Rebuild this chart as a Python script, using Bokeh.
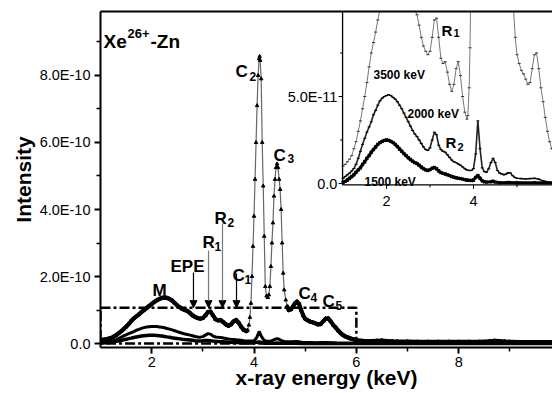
from bokeh.plotting import figure
from bokeh.models import Range1d, LinearAxis, FixedTicker, Arrow, NormalHead
from bokeh.core.properties import value
from bokeh.embed import file_html
from bokeh.resources import INLINE

FONT = "Liberation Sans"

# ---------------- data ----------------
# 3500 keV spectrum (main curve), intensity in units of 1e-10
E_3500 = [1.00, 1.05, 1.10, 1.15, 1.20, 1.25, 1.30, 1.35, 1.40, 1.45, 1.50, 1.55, 1.60, 1.65,
          1.70, 1.75, 1.80, 1.85, 1.90, 1.95, 2.00, 2.05, 2.10, 2.15, 2.20, 2.25, 2.30, 2.35,
          2.40, 2.45, 2.50, 2.55, 2.60, 2.65, 2.70, 2.75, 2.80, 2.85, 2.90, 2.95, 3.00, 3.05,
          3.10, 3.15, 3.20, 3.25, 3.30, 3.35, 3.40, 3.45, 3.50, 3.55, 3.60, 3.65, 3.70, 3.75,
          3.80, 3.85, 3.87, 3.90, 3.92, 3.94, 3.96, 3.98, 4.00, 4.02, 4.04, 4.06, 4.08, 4.10,
          4.11, 4.12, 4.14, 4.16, 4.18, 4.20, 4.22, 4.245, 4.27, 4.29, 4.31, 4.33, 4.35, 4.37,
          4.39, 4.41, 4.43, 4.45, 4.47, 4.49, 4.51, 4.53, 4.55, 4.57, 4.59, 4.62, 4.65, 4.68,
          4.72, 4.76, 4.80, 4.84, 4.88, 4.92, 4.96, 5.00, 5.05, 5.10, 5.15, 5.20, 5.25, 5.30,
          5.35, 5.40, 5.45, 5.50, 5.55, 5.60, 5.65, 5.70, 5.75, 5.80, 5.85, 5.90, 5.95, 6.00,
          6.10, 6.20, 6.30, 6.40, 6.50, 6.60, 6.70, 6.80, 7.00, 7.20, 7.40, 7.60, 7.80, 8.00,
          8.20, 8.40, 8.60, 8.70, 8.80, 8.90, 9.00, 9.20, 9.40, 9.60, 9.85]
I_3500 = [0.10, 0.11, 0.125, 0.14, 0.16, 0.20, 0.24, 0.30, 0.36, 0.43, 0.50, 0.58, 0.67, 0.75,
          0.81, 0.87, 0.94, 1.00, 1.06, 1.12, 1.18, 1.24, 1.29, 1.33, 1.36, 1.37, 1.36, 1.33,
          1.28, 1.21, 1.14, 1.08, 1.03, 1.00, 0.97, 0.91, 0.84, 0.79, 0.76, 0.74, 0.76, 0.84,
          0.94, 0.95, 0.84, 0.72, 0.69, 0.70, 0.64, 0.57, 0.53, 0.57, 0.66, 0.70, 0.62, 0.50,
          0.41, 0.37, 0.39, 0.55, 0.78, 1.2, 2.0, 2.9, 3.8, 4.9, 6.0, 7.1, 8.0, 8.5,
          8.57, 8.45, 7.9, 6.0, 4.7, 3.2, 1.7, 1.42, 1.37, 1.45, 1.7, 2.3, 3.0, 3.6,
          4.4, 4.9, 5.25, 5.36, 5.25, 4.9, 4.6, 4.0, 3.0, 2.1, 1.6, 1.3, 1.1, 1.0,
          1.02, 1.1, 1.2, 1.25, 1.18, 1.00, 0.84, 0.74, 0.69, 0.65, 0.63, 0.60, 0.57, 0.58,
          0.66, 0.74, 0.75, 0.66, 0.55, 0.47, 0.38, 0.30, 0.24, 0.20, 0.17, 0.14, 0.12, 0.10,
          0.08, 0.07, 0.07, 0.08, 0.085, 0.075, 0.065, 0.06, 0.055, 0.05, 0.05, 0.05, 0.05, 0.05,
          0.05, 0.05, 0.065, 0.08, 0.07, 0.055, 0.05, 0.045, 0.045, 0.04, 0.04]

# 2000 keV spectrum, intensity in units of 1e-11
E_2000 = [1.00, 1.05, 1.10, 1.15, 1.20, 1.25, 1.30, 1.35, 1.40, 1.45, 1.50, 1.55, 1.60, 1.65,
          1.70, 1.75, 1.80, 1.85, 1.90, 1.95, 2.00, 2.05, 2.10, 2.15, 2.20, 2.25, 2.30, 2.35,
          2.40, 2.45, 2.50, 2.55, 2.60, 2.65, 2.70, 2.75, 2.80, 2.85, 2.90, 2.95, 3.00, 3.05,
          3.10, 3.15, 3.20, 3.25, 3.30, 3.35, 3.40, 3.45, 3.50, 3.55, 3.60, 3.65, 3.70, 3.75,
          3.80, 3.85, 3.90, 3.95, 4.00, 4.05, 4.10, 4.15, 4.20, 4.25, 4.30, 4.35, 4.40, 4.45,
          4.50, 4.55, 4.60, 4.65, 4.70, 4.75, 4.80, 4.85, 4.90, 4.95, 5.00, 5.10, 5.20, 5.30,
          5.40, 5.50, 5.60, 5.70, 5.85, 6.00, 6.40, 7.00, 8.00, 8.70, 9.00, 9.85]
I_2000 = [0.30, 0.40, 0.50, 0.60, 0.72, 0.86, 1.10, 1.45, 1.85, 2.25, 2.60, 2.95, 3.25, 3.55,
          3.95, 4.20, 4.50, 4.75, 4.90, 5.00, 5.05, 5.10, 5.05, 4.95, 4.85, 4.70, 4.50, 4.30,
          4.05, 3.80, 3.55, 3.30, 3.05, 2.85, 2.70, 2.50, 2.30, 2.10, 1.95, 1.90, 2.05, 2.50,
          2.95, 2.80, 2.20, 1.95, 1.85, 1.80, 1.65, 1.50, 1.35, 1.25, 1.20, 1.12, 1.05, 0.95,
          0.85, 0.78, 0.75, 0.75, 0.85, 1.70, 3.60, 2.00, 0.90, 0.68, 0.65, 0.85, 1.20, 1.45,
          1.20, 0.75, 0.60, 0.55, 0.50, 0.55, 0.62, 0.60, 0.45, 0.35, 0.30, 0.28, 0.26, 0.28,
          0.30, 0.25, 0.15, 0.10, 0.06, 0.05, 0.06, 0.04, 0.04, 0.10, 0.04, 0.03]

# 1500 keV spectrum, intensity in units of 1e-11
E_1500 = [1.00, 1.05, 1.10, 1.15, 1.20, 1.25, 1.30, 1.35, 1.40, 1.45, 1.50, 1.55, 1.60, 1.65,
          1.70, 1.75, 1.80, 1.85, 1.90, 1.95, 2.00, 2.05, 2.10, 2.15, 2.20, 2.25, 2.30, 2.35,
          2.40, 2.45, 2.50, 2.55, 2.60, 2.65, 2.70, 2.75, 2.80, 2.85, 2.90, 2.95, 3.00, 3.05,
          3.10, 3.15, 3.20, 3.25, 3.30, 3.35, 3.40, 3.45, 3.50, 3.55, 3.60, 3.65, 3.70, 3.75,
          3.80, 3.85, 3.90, 3.95, 4.00, 4.05, 4.10, 4.15, 4.20, 4.25, 4.30, 4.40, 4.45, 4.50,
          4.60, 4.80, 5.00, 5.40, 5.85, 6.50, 8.00, 9.85]
I_1500 = [0.06, 0.12, 0.20, 0.30, 0.40, 0.50, 0.65, 0.78, 0.90, 1.10, 1.25, 1.45, 1.60, 1.80,
          1.95, 2.10, 2.25, 2.35, 2.42, 2.48, 2.50, 2.48, 2.42, 2.35, 2.25, 2.12, 1.98, 1.85,
          1.72, 1.60, 1.48, 1.38, 1.28, 1.20, 1.15, 1.05, 0.95, 0.85, 0.78, 0.75, 0.80, 0.88,
          0.92, 0.85, 0.72, 0.63, 0.58, 0.55, 0.50, 0.45, 0.40, 0.36, 0.33, 0.30, 0.28, 0.25,
          0.22, 0.20, 0.18, 0.17, 0.20, 0.35, 0.46, 0.30, 0.15, 0.10, 0.08, 0.10, 0.13, 0.08,
          0.05, 0.06, 0.04, 0.05, 0.03, 0.03, 0.02, 0.02]

# axis ticks / labels
X_TICKS = [2, 4, 6, 8]
X_MINOR = [3, 5, 7, 9]
Y_TICKS = [0, 2, 4, 6, 8]
Y_MINOR = [1, 3, 5, 7, 9]
Y_LABELS = {0: "0.0", 2: "2.0E-10", 4: "4.0E-10", 6: "6.0E-10", 8: "8.0E-10"}
IN_X_TICKS = [2, 4]
IN_X_MINOR = [3, 5]
IN_Y_TICKS = [0, 5]
IN_Y_MINOR = [2.5, 7.5]
IN_Y_LABELS = ["0.0", "5.0E-11"]

ZOOM_BOX_X = [1.0, 6.0]
ZOOM_BOX_Y = [0.0, 1.07]

# ---------------- figure ----------------
XR = (1.0, 9.833)
YR = (-0.119, 9.91)
FW, FH = 452, 336  # frame size in px
p = figure(width=552, height=393, x_range=Range1d(*XR), y_range=Range1d(*YR),
           output_backend="svg", toolbar_location=None,
           min_border_left=100, min_border_right=0, min_border_top=11, min_border_bottom=46)
p.extra_x_ranges = {"ix": Range1d(-4.575, 5.816)}
p.extra_y_ranges = {"iy": Range1d(-9.425, 9.885)}
p.grid.visible = False
p.outline_line_color = None
p.background_fill_color = "white"

for ax in (p.xaxis[0], p.yaxis[0]):
    ax.axis_line_width = 2
    ax.major_tick_line_width = 2
    ax.minor_tick_line_width = 1.5
    ax.major_tick_in = 0
    ax.major_tick_out = 6
    ax.minor_tick_in = 0
    ax.minor_tick_out = 4
    ax.major_label_text_font = FONT
    ax.major_label_text_font_size = "14.5px"
    ax.major_label_text_color = "black"
    ax.major_label_standoff = 4
    ax.axis_label_text_font = FONT
    ax.axis_label_text_font_style = "bold"
    ax.axis_label_text_font_size = "21px"
    ax.axis_label_text_color = "black"

p.xaxis[0].ticker = FixedTicker(ticks=X_TICKS, minor_ticks=X_MINOR)
p.yaxis[0].ticker = FixedTicker(ticks=Y_TICKS, minor_ticks=Y_MINOR)
p.yaxis[0].major_label_overrides = Y_LABELS
p.xaxis[0].axis_label = "x-ray energy (keV)"
p.yaxis[0].axis_label = "Intensity"
p.xaxis[0].major_label_standoff = 3
p.xaxis[0].axis_label_standoff = -4
p.yaxis[0].axis_label_standoff = 2

top = LinearAxis(ticker=FixedTicker(ticks=[]), axis_line_width=2,
                 major_tick_line_color=None, minor_tick_line_color=None,
                 major_label_text_font_size="0px", major_label_standoff=0)
p.add_layout(top, "above")

# ---------------- main curves ----------------
I_2000_main = [v / 10 for v in I_2000]
I_1500_main = [v / 10 for v in I_1500]
p.line(E_1500, I_1500_main, line_color="black", line_width=3.5)
p.line(E_2000, I_2000_main, line_color="black", line_width=3)

# 3500 keV: densely marked curve -> thick where flat, thin grey where steep
sx = FW / (XR[1] - XR[0])
sy = FH / (YR[1] - YR[0])
n_seg = len(E_3500) - 1
steep_raw = []
for i in range(n_seg):
    dxp = (E_3500[i + 1] - E_3500[i]) * sx
    dyp = abs(I_3500[i + 1] - I_3500[i]) * sy
    steep_raw.append(dyp > 6 * dxp)
widths, colors = [], []
for i in range(n_seg):
    steep = steep_raw[i] or (i > 0 and steep_raw[i - 1]) or (i < n_seg - 1 and steep_raw[i + 1])
    widths.append(1.2 if steep else 4.2)
    colors.append("#666666" if steep else "black")
p.segment(x0=E_3500[:-1], y0=I_3500[:-1], x1=E_3500[1:], y1=I_3500[1:],
          line_width=widths, line_color=colors, line_cap="round")
p.scatter(E_3500, I_3500, marker="triangle", size=3.5, fill_color="black", line_color="black")

# zoom rectangle (dash-dot)
bx = [ZOOM_BOX_X[0], ZOOM_BOX_X[1], ZOOM_BOX_X[1], ZOOM_BOX_X[0], ZOOM_BOX_X[0]]
by = [ZOOM_BOX_Y[1], ZOOM_BOX_Y[1], ZOOM_BOX_Y[0], ZOOM_BOX_Y[0], ZOOM_BOX_Y[1]]
p.line(bx, by, line_color="black", line_width=2.5, line_dash="10 3 3 3")

# arrows
ARROWS = [(2.817, 2.12, "black"), (3.111, 2.78, "#777777"), (3.384, 3.58, "#777777"), (3.658, 2.09, "black")]
for ax_, ytop, col in ARROWS:
    p.add_layout(Arrow(end=NormalHead(size=7, fill_color="black", line_color="black"),
                       x_start=ax_, y_start=ytop, x_end=ax_, y_end=1.07,
                       line_color=col, line_width=1.2))


def txt(x, y, t, size, bold=True, align="left", baseline="alphabetic", xr="default", yr="default"):
    kw = {}
    if xr != "default":
        kw["x_range_name"] = xr
    if yr != "default":
        kw["y_range_name"] = yr
    p.text(x=[x], y=[y], text=[t], text_font=value(FONT), text_font_size=size,
           text_font_style="bold" if bold else "normal", text_align=align,
           text_baseline=baseline, text_color="black", **kw)


# main annotations
txt(1.059, 9.015, "Xe", "19px")
txt(1.528, 9.254, "26+", "13px")
txt(1.977, 9.015, "-Zn", "19px")
txt(2.016, 1.582, "M", "17px")
txt(2.368, 2.299, "EPE", "17px")
for (xm, ym, m, xs, ys, s) in [(2.993, 3.015, "R", 3.228, 2.896, "1"),
                               (3.228, 3.731, "R", 3.482, 3.612, "2"),
                               (3.580, 2.030, "C", 3.814, 1.910, "1"),
                               (3.638, 8.119, "C", 3.912, 7.970, "2"),
                               (4.381, 5.612, "C", 4.655, 5.522, "3"),
                               (4.870, 1.493, "C", 5.104, 1.373, "4"),
                               (5.339, 1.254, "C", 5.593, 1.134, "5")]:
    txt(xm, ym, m, "17px")
    txt(xs, ys, s, "12px")

# ---------------- inset ----------------
IXA, IYA = 0.99, -0.08
p.quad(left=[IXA], right=[6.0], bottom=[IYA], top=[10.5], x_range_name="ix", y_range_name="iy",
       fill_color="white", line_color=None)

I_3500_in = [v * 10 for v in I_3500]
p.line(E_3500, I_3500_in, x_range_name="ix", y_range_name="iy", line_color="#777777", line_width=1)
p.scatter(E_3500, I_3500_in, x_range_name="ix", y_range_name="iy", marker="dash", size=3,
          line_color="#333333")
p.line(E_2000, I_2000, x_range_name="ix", y_range_name="iy", line_color="#222222", line_width=1.6)
p.scatter(E_2000, I_2000, x_range_name="ix", y_range_name="iy", marker="dash", size=3,
          line_color="black")
p.line(E_1500, I_1500, x_range_name="ix", y_range_name="iy", line_color="black", line_width=3)
p.scatter(E_1500, I_1500, x_range_name="ix", y_range_name="iy", marker="x", size=4,
          line_color="black", line_width=1.5)

# inset axes
p.segment(x0=[IXA, IXA], y0=[IYA, IYA], x1=[6.0, IXA], y1=[IYA, 10.5],
          x_range_name="ix", y_range_name="iy", line_color="black", line_width=1.3)
TX = 4 / 17.4
TY = 4 / 43.5
p.segment(x0=IN_X_TICKS + IN_X_MINOR, y0=[IYA] * 4,
          x1=IN_X_TICKS + IN_X_MINOR, y1=[IYA - TX] * 2 + [IYA - TX * 0.6] * 2,
          x_range_name="ix", y_range_name="iy", line_color="black", line_width=1)
p.segment(x0=[IXA] * 4, y0=IN_Y_TICKS + IN_Y_MINOR,
          x1=[IXA - TY] * 2 + [IXA - TY * 0.6] * 2, y1=IN_Y_TICKS + IN_Y_MINOR,
          x_range_name="ix", y_range_name="iy", line_color="black", line_width=1)
for yv, lab in zip(IN_Y_TICKS, IN_Y_LABELS):
    txt(0.87, yv, lab, "14.5px", bold=False, align="right", baseline="middle", xr="ix", yr="iy")
for xv in IN_X_TICKS:
    txt(xv, -1.03, str(xv), "14.5px", bold=False, align="center", xr="ix", yr="iy")

txt(1.701, 6.207, "3500 keV", "12px", xr="ix", yr="iy")
txt(2.483, 4.023, "2000 keV", "12px", xr="ix", yr="iy")
txt(1.494, 0.115, "1500 keV", "12px", xr="ix", yr="iy")
txt(3.264, 8.793, "R", "15px", xr="ix", yr="iy")
txt(3.540, 8.621, "1", "11px", xr="ix", yr="iy")
txt(3.356, 2.356, "R", "15px", xr="ix", yr="iy")
txt(3.632, 2.126, "2", "11px", xr="ix", yr="iy")

open("out.html", "w").write(file_html(p, INLINE))
